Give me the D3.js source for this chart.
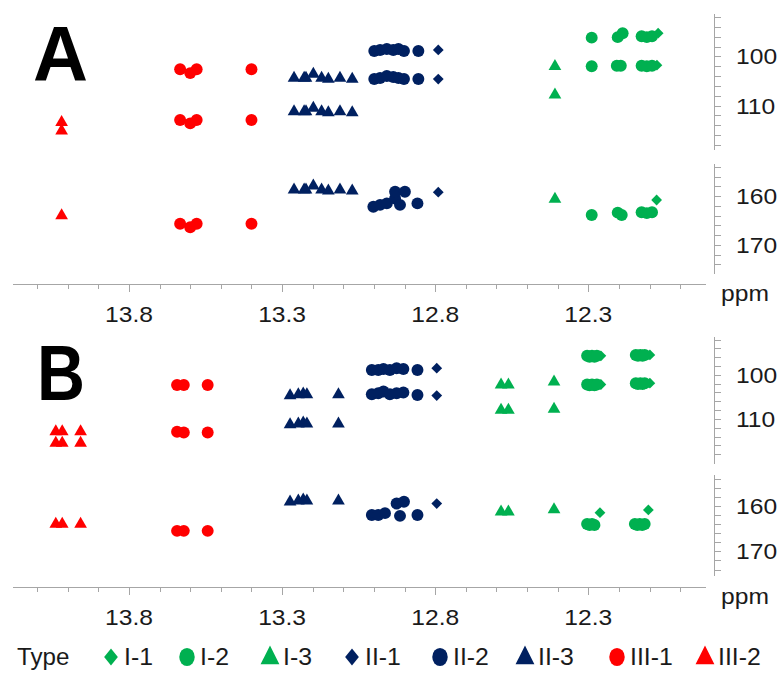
<!DOCTYPE html>
<html><head><meta charset="utf-8">
<script src="https://cdn.jsdelivr.net/npm/d3@7"></script>
<style>html,body{margin:0;padding:0;background:#fff;} svg{display:block;}</style>
</head><body>
<svg id="chart" width="783" height="675"></svg>
<script>
// ---------- categories & styles ----------
const types = ["I-1","I-2","I-3","II-1","II-2","II-3","III-1","III-2"];
const typeColors = ["#00B050","#00B050","#00B050","#002060","#002060","#002060","#FF0000","#FF0000"];
const typeShapes = ["diamond","circle","triangle","diamond","circle","triangle","circle","triangle"];

// ---------- tick labels ----------
const xMajorTicks = [13.8, 13.3, 12.8, 12.3];
const yUpperLabels = [100, 110];
const yLowerLabels = [160, 170];

// ---------- Panel A data: [1H ppm, 13C ppm] ----------
const A_I1 = [[12.072,95.3],[12.076,101.8],[12.077,160.8]];
const A_I2 = [
 [12.289,96.2],[12.204,96.1],[12.188,95.3],[12.126,95.9],[12.109,96.1],[12.092,95.9],
 [12.289,102.0],[12.207,101.9],[12.194,101.9],[12.126,101.9],[12.109,102.0],[12.092,101.9],
 [12.289,163.9],[12.204,163.4],[12.191,163.9],[12.126,163.3],[12.109,163.5],[12.092,163.3]];
const A_I3 = [[12.409,102.0],[12.409,107.8],[12.409,160.6]];
const A_II1 = [[12.79,98.7],[12.79,104.6],[12.79,159.2]];
const A_II2 = [
 [12.999,98.9],[12.98,98.7],[12.958,98.5],[12.937,98.7],[12.92,98.5],[12.902,98.9],[12.855,98.9],
 [12.999,104.6],[12.98,104.4],[12.958,104.0],[12.937,104.2],[12.92,104.4],[12.902,104.6],[12.855,104.6],
 [13.002,162.2],[12.98,161.8],[12.958,161.5],[12.931,160.5],[12.915,161.8],[12.931,159.1],[12.899,159.1],[12.858,161.5]];
const A_II3 = [
 [13.261,104.4],[13.228,104.4],[13.222,104.4],[13.198,103.6],[13.171,104.4],[13.149,104.6],[13.111,104.4],[13.071,104.6],
 [13.261,111.2],[13.228,111.2],[13.222,111.2],[13.198,110.5],[13.171,111.2],[13.149,111.4],[13.111,111.2],[13.071,111.4],
 [13.261,158.7],[13.228,158.7],[13.222,158.7],[13.198,157.9],[13.171,158.7],[13.149,158.9],[13.111,158.7],[13.071,158.9]];
const A_III1 = [
 [13.633,102.6],[13.60,103.4],[13.579,102.6],[13.40,102.6],
 [13.633,112.9],[13.60,113.6],[13.579,112.9],[13.40,112.9],
 [13.633,165.7],[13.60,166.4],[13.579,165.7],[13.40,165.7]];
const A_III2 = [[14.02,113.4],[14.02,115.1],[14.02,164.0]];

// ---------- Panel B data ----------
const B_I1 = [[12.259,95.7],[12.099,95.5],[12.259,102.2],[12.099,101.9],[12.262,161.5],[12.104,160.9]];
const B_I2 = [
 [12.304,95.7],[12.296,95.9],[12.288,95.7],[12.28,95.9],[12.272,95.7],
 [12.145,95.5],[12.138,95.7],[12.13,95.5],[12.123,95.7],[12.116,95.5],
 [12.304,102.2],[12.296,102.4],[12.288,102.2],[12.28,102.4],[12.272,102.2],
 [12.145,101.9],[12.138,102.1],[12.13,101.9],[12.123,102.1],[12.116,101.9],
 [12.304,164.0],[12.296,164.2],[12.288,164.0],[12.28,164.2],
 [12.148,164.0],[12.14,164.2],[12.132,164.0],[12.124,164.2],[12.116,164.0]];
const B_I3 = [[12.585,102.3],[12.561,102.3],[12.412,101.6],[12.585,108.0],[12.561,108.0],[12.412,107.8],
 [12.585,161.3],[12.561,161.3],[12.412,160.8]];
const B_II1 = [[12.795,98.5],[12.795,104.7],[12.795,159.5]];
const B_II2 = [
 [13.007,98.9],[12.986,98.9],[12.969,98.7],[12.948,98.9],[12.926,98.5],[12.904,98.7],[12.858,98.9],
 [13.007,104.4],[12.986,104.2],[12.969,103.8],[12.948,104.4],[12.926,104.2],[12.904,104.0],[12.858,104.6],
 [13.007,162.0],[12.986,162.0],[12.964,161.6],[12.915,162.2],[12.858,162.0],[12.926,159.5],[12.902,159.1]];
const B_II3 = [
 [13.274,104.7],[13.247,104.5],[13.231,104.3],[13.219,104.5],[13.116,104.5],
 [13.274,111.3],[13.247,111.1],[13.231,110.9],[13.219,111.1],[13.116,111.1],
 [13.274,159.1],[13.247,158.9],[13.231,158.7],[13.219,158.9],[13.116,158.9]];
const B_III1 = [[13.643,102.3],[13.621,102.3],[13.543,102.3],[13.643,112.9],[13.621,113.1],[13.543,113.1],
 [13.643,165.5],[13.621,165.5],[13.543,165.5]];
const B_III2 = [[14.039,112.9],[14.018,112.9],[13.958,112.9],[14.039,115.5],[14.018,115.5],[13.958,115.5],
 [14.039,164.0],[14.018,164.0],[13.958,164.0]];

// ---------- layout ----------
const panels = [
 {letter:"A", series:[A_I1,A_I2,A_I3,A_II1,A_II2,A_II3,A_III1,A_III2], axisY:283,
  upRange:[13,149], upDomain:[91.2,118.8], loRange:[163,273], loDomain:[153.2,175.8],
  lx:33, ly:81, lw:55},
 {letter:"B", series:[B_I1,B_I2,B_I3,B_II1,B_II2,B_II3,B_III1,B_III2], axisY:586,
  upRange:[336,463], upDomain:[91.2,120], loRange:[474,575], loDomain:[153,175.2],
  lx:37, ly:400, lw:48}
];
const FONT = "'Liberation Sans', Arial, sans-serif";
const AXIS_COLOR = "#a6a6a6";
const TEXT_COLOR = "#1a1a1a";
const SX = 1.12;

const svg = d3.select("#chart");
const x = d3.scaleLinear().domain([14.182, 11.919]).range([12, 705]);
const minorTicks = d3.range(120, 142).map(v => v/10);

function symbolPath(shape, size) {
  if (shape === "circle") return d3.symbol(d3.symbolCircle, size)();
  if (shape === "triangle") return d3.symbol(d3.symbolTriangle, size)();
  return d3.symbol(d3.symbolSquare, size)();
}
function markerTransform(shape, px, py) {
  return shape === "diamond" ? `translate(${px},${py}) rotate(45)` : `translate(${px},${py})`;
}
const markerSize = {circle: 112, triangle: 70, diamond: 58};

function stext(g, px, py, str, anchor, size, sx) {
  return g.append("text")
    .attr("transform", `translate(${px},${py}) scale(${sx},1)`)
    .attr("text-anchor", anchor)
    .attr("font-family", FONT).attr("font-size", size)
    .attr("fill", TEXT_COLOR).text(str);
}

panels.forEach(p => {
  const g = svg.append("g");
  const yUp = d3.scaleLinear().domain(p.upDomain).range(p.upRange);
  const yLo = d3.scaleLinear().domain(p.loDomain).range(p.loRange);

  // x axis: minor + major ticks
  g.append("g").attr("transform", `translate(0,${p.axisY + 0.5})`)
    .call(d3.axisBottom(x).tickValues(minorTicks).tickSize(5).tickSizeOuter(0).tickFormat(""));
  g.append("g").attr("transform", `translate(0,${p.axisY + 0.5})`)
    .call(d3.axisBottom(x).tickValues(xMajorTicks).tickSize(8).tickSizeOuter(0).tickFormat(""))
    .select(".domain").remove();
  g.selectAll(".domain, .tick line").attr("stroke", AXIS_COLOR).attr("shape-rendering", "crispEdges");
  xMajorTicks.forEach(t => stext(g, x(t), p.axisY + 38.5, t.toFixed(1), "middle", 22, SX));
  stext(g, 721, p.axisY + 18, "ppm", "start", 22, SX);

  // y axes (right)
  [[yUp, d3.range(92, 119, 2), yUpperLabels], [yLo, d3.range(154, 175, 2), yLowerLabels]].forEach(([ys, tv, labs]) => {
    g.append("g").attr("transform", "translate(713.5,0)")
      .call(d3.axisRight(ys).tickValues(tv).tickSize(7).tickSizeOuter(0).tickFormat(""))
      .selectAll(".domain, .tick line").attr("stroke", AXIS_COLOR).attr("shape-rendering", "crispEdges");
    labs.forEach(v => stext(g, 736, ys(v) + 7.9, String(v), "start", 22, SX));
  });

  // panel letter
  g.append("text").attr("x", p.lx).attr("y", p.ly)
    .attr("font-family", FONT).attr("font-weight", "bold").attr("font-size", 78)
    .attr("textLength", p.lw).attr("lengthAdjust", "spacingAndGlyphs")
    .attr("fill", "#000").text(p.letter);

  // markers
  p.series.forEach((data, i) => {
    const shape = typeShapes[i];
    g.append("g").selectAll("path").data(data).join("path")
      .attr("d", symbolPath(shape, markerSize[shape]))
      .attr("transform", d => markerTransform(shape, x(d[0]), d[1] < 135 ? yUp(d[1]) : yLo(d[1])))
      .attr("fill", typeColors[i]);
  });
});

// ---------- legend ----------
const legendMarkerX = [111, 187, 270, 352, 440, 525, 617, 705];
const lg = svg.append("g");
const LEG_Y = 657;
stext(lg, 17, LEG_Y + 8, "Type", "start", 23, 1.05);
types.forEach((t, i) => {
  const shape = typeShapes[i];
  let tr;
  if (shape === "diamond") tr = `translate(${legendMarkerX[i]},${LEG_Y}) scale(0.85,1.05) rotate(45)`;
  else if (shape === "circle") tr = `translate(${legendMarkerX[i]},${LEG_Y}) scale(0.85,1)`;
  else tr = `translate(${legendMarkerX[i]},${LEG_Y + 1}) scale(0.95,1.1)`;
  lg.append("path").attr("d", symbolPath(shape, shape === "circle" ? 260 : shape === "triangle" ? 170 : 130))
    .attr("transform", tr).attr("fill", typeColors[i]);
  stext(lg, legendMarkerX[i] + 13, LEG_Y + 8, t, "start", 23, 1.08);
});
</script>
</body></html>
